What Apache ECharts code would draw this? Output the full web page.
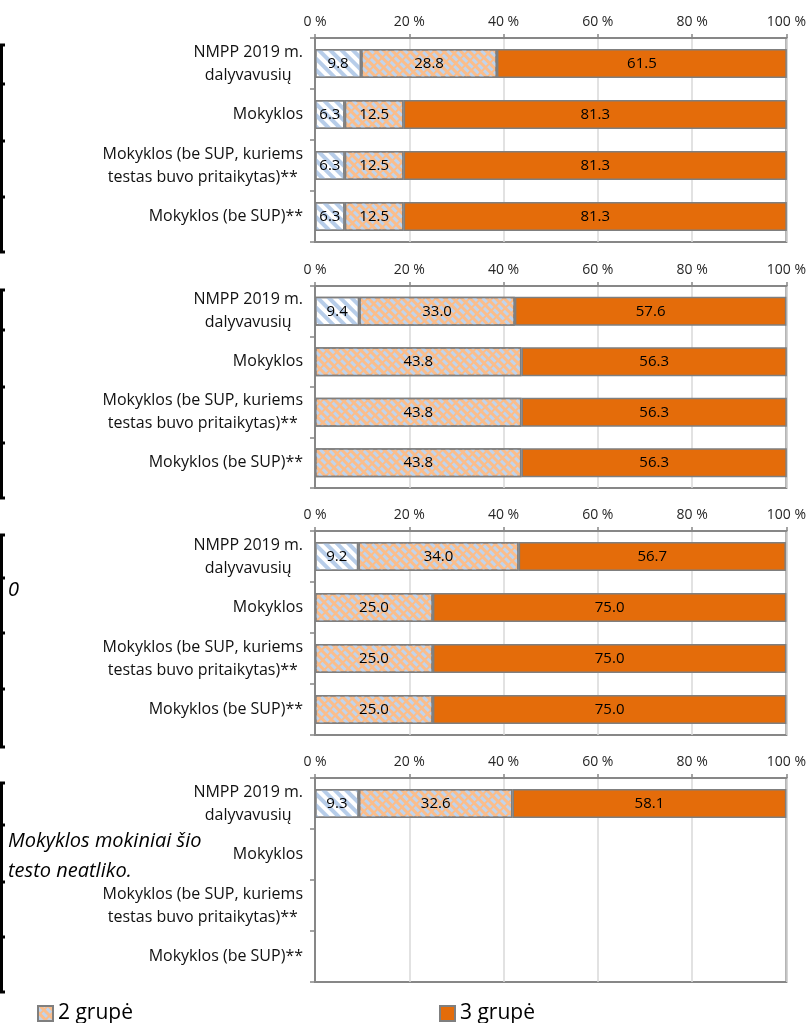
<!DOCTYPE html>
<html>
<head>
<meta charset="utf-8">
<script src="https://cdn.jsdelivr.net/npm/echarts@6/dist/echarts.min.js"></script>
<style>
html,body{margin:0;padding:0;background:#fff;}
#c{width:809px;height:1023px;}
</style>
</head>
<body>
<div id="c"></div>
<script>
// ---- data ----
const categories = [
  'NMPP 2019 m.\ndalyvavusių',
  'Mokyklos',
  'Mokyklos (be SUP, kuriems\ntestas buvo pritaikytas)**',
  'Mokyklos (be SUP)**'
];
const seriesNames = ['1 grupė', '2 grupė', '3 grupė'];
// one row per panel, values per category
const group1 = [
  [9.8, 6.3, 6.3, 6.3],
  [9.4, '-', '-', '-'],
  [9.2, '-', '-', '-'],
  [9.3, '-', '-', '-']
];
const group2 = [
  [28.8, 12.5, 12.5, 12.5],
  [33.0, 43.8, 43.8, 43.8],
  [34.0, 25.0, 25.0, 25.0],
  [32.6, '-', '-', '-']
];
const group3 = [
  [61.5, 81.3, 81.3, 81.3],
  [57.6, 56.3, 56.3, 56.3],
  [56.7, 75.0, 75.0, 75.0],
  [58.1, '-', '-', '-']
];
const axisMin = 0, axisMax = 100, axisStep = 20;

// ---- layout / style ----
const FONT = 'Open Sans';
const panelTops = [38, 286, 531, 778];
const panelHeights = [204, 202, 204, 204];
const gridLeft = 315, gridWidth = 473;
const AXIS = '#878787';

const styles = [
  { color: '#ffffff', borderColor: '#7f7f7f', borderWidth: 1.5,
    decal: { symbol: 'rect', symbolSize: 1, color: '#b7cde9', dashArrayX: [1, 0], dashArrayY: [3.5, 3.5], rotation: Math.PI / 4 } },
  { color: '#fbbd8a', borderColor: '#7f7f7f', borderWidth: 1.5,
    decal: { symbol: 'rect', symbolSize: 1, color: '#bfd4ee', dashArrayX: [[6, 2]], dashArrayY: [2.5, 2.5], rotation: Math.PI / 4 } },
  { color: '#e46c0a', borderColor: '#7f7f7f', borderWidth: 1.5 }
];

const grids = [], xAxes = [], yAxes = [], series = [];
const valueSets = [group1, group2, group3];
for (let p = 0; p < 4; p++) {
  grids.push({ left: gridLeft, width: gridWidth, top: panelTops[p], height: panelHeights[p],
    show: true, borderColor: AXIS, borderWidth: 2, backgroundColor: 'transparent' });
  xAxes.push({
    gridIndex: p, type: 'value', position: 'top', min: axisMin, max: axisMax, interval: axisStep,
    axisLine: { show: true, lineStyle: { color: AXIS, width: 2 } },
    axisTick: { show: true, length: 4, lineStyle: { color: AXIS, width: 1.5 } },
    splitLine: { show: true, lineStyle: { color: '#d9d9d9', width: 1.5 } },
    axisLabel: { formatter: '{value} %', fontFamily: FONT, fontSize: 14, color: '#262626', margin: 9 }
  });
  yAxes.push({
    gridIndex: p, type: 'category', inverse: true, data: categories,
    axisLine: { show: true, lineStyle: { color: AXIS, width: 2 } },
    axisTick: { show: true, length: 5, lineStyle: { color: AXIS, width: 1.5 } },
    splitLine: { show: false },
    axisLabel: {
      margin: 12, color: '#111', fontFamily: FONT, fontSize: 16, lineHeight: 23,
      formatter: v => v.split('\n').map(l => '{c|' + l + '}').join('\n'),
      rich: { c: { align: 'center', fontFamily: FONT, fontSize: 16, lineHeight: 23, color: '#111' } }
    }
  });
  for (let s = 0; s < 3; s++) {
    series.push({
      name: seriesNames[s], type: 'bar', stack: 'p' + p, xAxisIndex: p, yAxisIndex: p,
      barWidth: 29, data: valueSets[s][p], itemStyle: styles[s],
      label: { show: true, position: 'inside', color: '#000', fontFamily: FONT, fontSize: 15,
        formatter: q => (typeof q.value === 'number' ? q.value.toFixed(1) : '') },
      emphasis: { disabled: true }, animation: false
    });
  }
}

// table border fragments on the left (page background)
const brackets = [
  [45, 84, 141, 197, 252],
  [290, 330, 387, 443, 498],
  [535, 578, 633, 689, 747],
  [783, 825, 882, 937, 992]
];
const graphic = [];
brackets.forEach(b => {
  graphic.push({ type: 'line', shape: { x1: 1.5, y1: b[0], x2: 1.5, y2: b[4] }, style: { stroke: '#000', lineWidth: 3 } });
  b.forEach(y => graphic.push({ type: 'line', shape: { x1: 0, y1: y, x2: 5, y2: y }, style: { stroke: '#000', lineWidth: 3 } }));
});
graphic.push({ type: 'text', left: 8, top: 580, style: { text: '0', font: 'italic 20px "Open Sans"', fill: '#000' } });
graphic.push({ type: 'text', left: 8, top: 831, style: { text: 'Mokyklos mokiniai šio', font: 'italic 20px "Open Sans"', fill: '#000' } });
graphic.push({ type: 'text', left: 8, top: 861, style: { text: 'testo neatliko.', font: 'italic 20px "Open Sans"', fill: '#000' } });

const legendText = { fontFamily: FONT, fontSize: 21, color: '#000' };
const option = {
  animation: false,
  grid: grids, xAxis: xAxes, yAxis: yAxes, series: series,
  legend: [
    { data: ['2 grupė'], left: 32, top: 998, itemWidth: 15, itemHeight: 15, icon: 'rect', textStyle: legendText, selectedMode: false },
    { data: ['3 grupė'], left: 434, top: 998, itemWidth: 15, itemHeight: 15, icon: 'rect', textStyle: legendText, selectedMode: false }
  ],
  graphic: graphic
};
const chart = echarts.init(document.getElementById('c'), null, { renderer: 'canvas' });
chart.setOption(option);
</script>
</body>
</html>
